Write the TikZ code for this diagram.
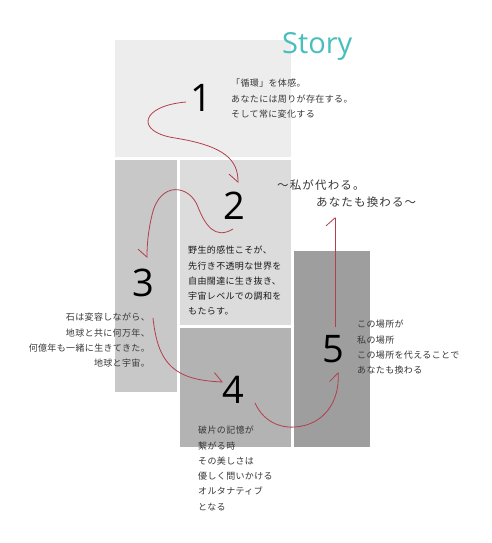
\documentclass[tikz,border=0pt]{standalone}
\usepackage{fontspec}
\setmainfont{Open Sans}
\newfontfamily\jp{Noto Sans CJK JP}[LetterSpace=4]
\newfontfamily\jpbig{Noto Sans CJK JP}[LetterSpace=10]
\newfontfamily\latinfont{Open Sans}
\usetikzlibrary{arrows.meta}
\definecolor{storyc}{RGB}{72,190,190}
\definecolor{arr}{RGB}{178,62,78}
\definecolor{txt}{RGB}{55,55,55}
\definecolor{txtdark}{RGB}{25,25,25}
\definecolor{gA}{RGB}{237,237,237}
\definecolor{gB}{RGB}{220,220,220}
\definecolor{gC}{RGB}{200,200,200}
\definecolor{gD}{RGB}{179,179,179}
\definecolor{gE}{RGB}{158,158,158}
\begin{document}
\begin{tikzpicture}[x=1pt,y=-1pt,
  box/.style={draw=none,inner sep=0pt,outer sep=0pt,anchor=north west},
  num/.style={font=\latinfont\fontsize{38}{38}\selectfont,inner sep=0pt,text=black},
  jtext/.style={font=\jp\fontsize{9}{15.3}\selectfont,inner sep=0pt,text=txt},
  jbig/.style={font=\jpbig\fontsize{11.5}{12}\selectfont,inner sep=0pt,text=txt,anchor=base west},
  flow/.style={draw=arr,line width=0.8pt,-{Straight Barb[harpoon,length=8pt,width=18pt]}},
  flowsw/.style={draw=arr,line width=0.8pt,-{Straight Barb[harpoon,swap,length=8pt,width=18pt]}},
]
\useasboundingbox (0,0) rectangle (491,543);
\fill[white] (0,0) rectangle (491,543);

% boxes
\node[box,fill=gA,minimum width=176pt,minimum height=117pt] (b1) at (115,40) {};
\node[box,fill=gB,minimum width=111pt,minimum height=165pt] (b2) at (180,160) {};
\node[box,fill=gC,minimum width=62pt,minimum height=232pt] (b3) at (115,160) {};
\node[box,fill=gD,minimum width=111pt,minimum height=119pt] (b4) at (180,328) {};
\node[box,fill=gE,minimum width=76pt,minimum height=196pt] (b5) at (294,251) {};

% title
\node[font=\latinfont\fontsize{29}{29}\selectfont,text=storyc,inner sep=0pt,anchor=base west] (title) at (282,54) {Story};

% numbers
\node[num] (n1) at (201,98) {1};
\node[num] (n2) at (234,206) {2};
\node[num] (n3) at (143,283) {3};
\node[num] (n4) at (233,390) {4};
\node[num] (n5) at (333,349) {5};

% texts (anchor = baseline of the last line)
\node[jtext,align=left,anchor=base west] (t1) at (231,117.3) {「循環」を体感。\\あなたには周りが存在する。\\そして常に変化する};
\node[jtext,align=left,anchor=base west,text=txtdark] (t2) at (188,314.9) {野生的感性こそが、\\先行き不透明な世界を\\自由闊達に生き抜き、\\宇宙レベルでの調和を\\もたらす。};
\node[jtext,align=right,anchor=base east] (t3) at (150,366.6) {石は変容しながら、\\地球と共に何万年、\\何億年も一緒に生きてきた。\\地球と宇宙。};
\node[jtext,align=left,anchor=base west] (t4) at (198,510.2) {破片の記憶が\\繋がる時\\その美しさは\\優しく問いかける\\オルタナティブ\\となる};
\node[jtext,align=left,anchor=base west] (t5) at (357,373.6) {この場所が\\私の場所\\この場所を代えることで\\あなたも換わる};
\node[jbig] (m1) at (277,189.5) {〜私が代わる。};
\node[jbig] (m2) at (316,206.5) {あなたも換わる〜};

% connector end points
\coordinate (a0) at (186,102);
\coordinate (a1) at (238,183);
\coordinate (c0) at (233,229);
\coordinate (c1) at (147,258);
\coordinate (d0) at (153,318);
\coordinate (d1) at (223,382);
\coordinate (e0) at (255,403);
\coordinate (e1) at (338,372);
\coordinate (f0) at (335,327);
\coordinate (f1) at (335,217);

\draw[flowsw] (a0) .. controls (140,106) and (135,132) .. (175,138)
  .. controls (225,146) and (238,160) .. (a1);
\draw[flowsw] (c0) .. controls (215,240) and (205,225) .. (198,207)
  .. controls (190,185) and (160,180) .. (152,215)
  .. controls (148,232) and (147,245) .. (c1);
\draw[flow] (d0) .. controls (158,365) and (175,380) .. (d1);
\draw[flow] (e0) .. controls (265,425) and (285,428) .. (295,427)
  .. controls (325,425) and (340,400) .. (e1);
\draw[flow] (f0) -- (f1);
\end{tikzpicture}
\end{document}
